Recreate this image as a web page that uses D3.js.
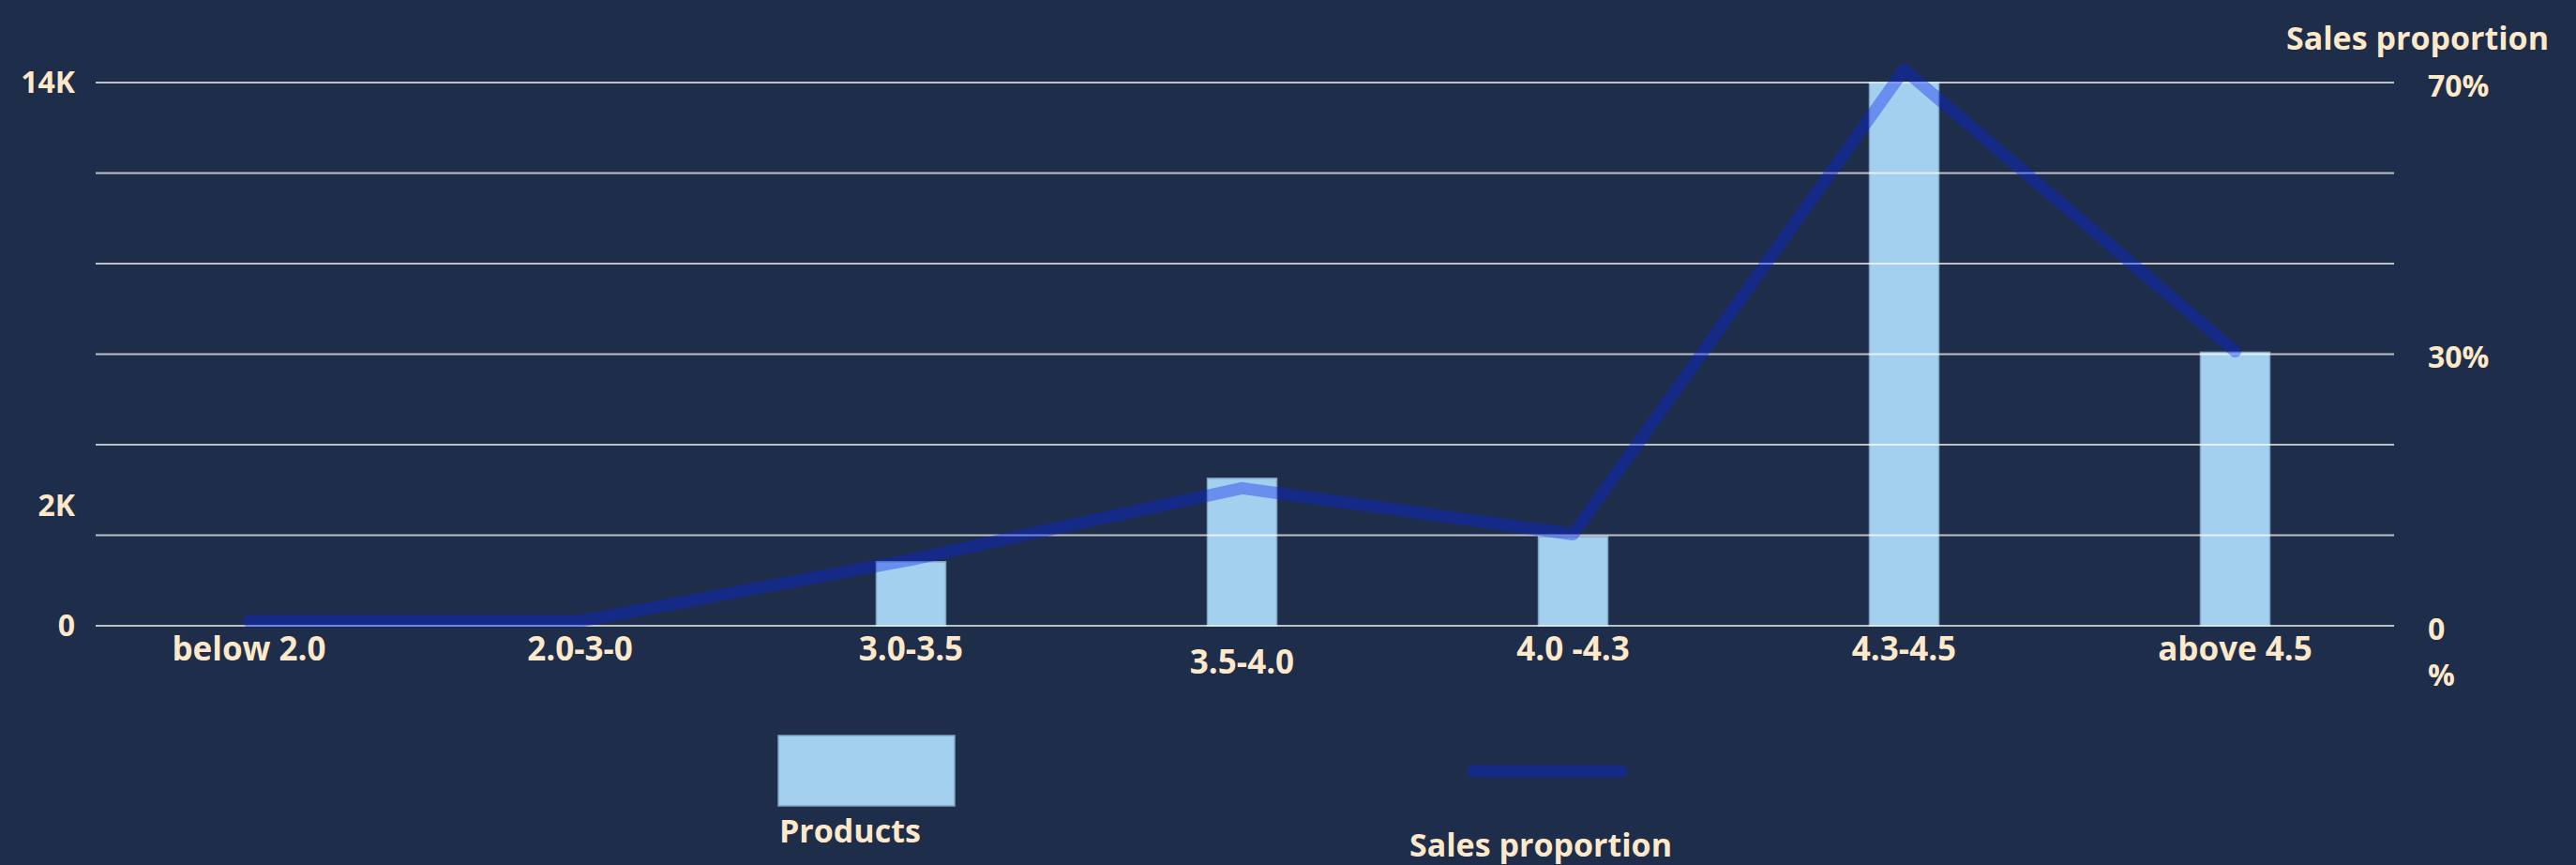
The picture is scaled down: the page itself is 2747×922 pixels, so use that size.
<!DOCTYPE html>
<html>
<head>
<meta charset="utf-8">
<script src="https://cdn.jsdelivr.net/npm/d3@7"></script>
<style>
  body { margin: 0; background: #1e2d4a; }
  text { font-family: "Open Sans", sans-serif; font-weight: 700; fill: #fde9c9; }
</style>
</head>
<body>
<div id="chart"></div>
<script>
// rating buckets
var categories = ["below 2.0", "2.0-3-0", "3.0-3.5", "3.5-4.0", "4.0 -4.3", "4.3-4.5", "above 4.5"];
// number of products per bucket
var products = [0, 0, 1650, 3800, 2300, 14000, 7050];
// sales proportion per bucket (%)
var salesShare = [0.5, 0.5, 7.3, 15.2, 10.1, 71.9, 30.4];

var leftTicks = [0, 2000, 14000];
var rightTicks = [0, 30, 70];

var width = 2747, height = 922;
var plot = {left: 102, right: 2553, top: 88, bottom: 667};

var svg = d3.select("#chart").append("svg")
    .attr("width", width)
    .attr("height", height);

var x = d3.scaleBand()
    .domain(categories)
    .range([89, 2560]);

var yLeft = d3.scaleLinear()
    .domain([0, 14000])
    .range([plot.bottom, plot.top]);

// right axis is not linear in the original: 30% sits on the middle gridline
var yRight = d3.scaleLinear()
    .domain([0, 30, 70])
    .range([yLeft(0), yLeft(7000), yLeft(14000)]);

var barWidth = 74;

// bars
svg.append("g").selectAll("rect")
    .data(categories)
    .enter()
    .append("rect")
    .attr("x", function(d) { return x(d) + x.bandwidth() / 2 - barWidth / 2; })
    .attr("y", function(d, i) { return yLeft(products[i]); })
    .attr("width", barWidth)
    .attr("height", function(d, i) { return yLeft(0) - yLeft(products[i]); })
    .style("fill", "#a3d0ef")
    .style("stroke", "#7fa3c0")
    .style("stroke-width", 1.5);

// gridlines (drawn over the bars like the original)
var grid = d3.range(7).map(function(i) { return i * 14000 / 6; });
svg.append("g").selectAll("line")
    .data(grid)
    .enter()
    .append("line")
    .attr("x1", plot.left)
    .attr("x2", plot.right)
    .attr("y1", function(d) { return yLeft(d); })
    .attr("y2", function(d) { return yLeft(d); })
    .style("stroke", "#ffffff")
    .style("stroke-opacity", 0.7)
    .style("stroke-width", 2);

// sales proportion line
var line = d3.line()
    .x(function(d, i) { return x(categories[i]) + x.bandwidth() / 2; })
    .y(function(d) { return yRight(d); });

svg.append("path")
    .datum(salesShare)
    .attr("d", line)
    .style("fill", "none")
    .style("stroke", "rgb(8,36,236)")
    .style("stroke-opacity", 0.38)
    .style("stroke-width", 13)
    .style("stroke-linejoin", "round")
    .style("stroke-linecap", "round");

// left axis
var leftAxis = svg.append("g")
    .attr("transform", "translate(80,0)")
    .call(d3.axisLeft(yLeft)
        .tickValues(leftTicks)
        .tickSize(0)
        .tickPadding(0)
        .tickFormat(function(d) { return d === 0 ? "0" : (d / 1000) + "K"; }));
leftAxis.select(".domain").remove();
leftAxis.selectAll("text")
    .style("font-size", "32px")
    .attr("fill", null)
    .filter(function(d) { return d === 2000; })
    .attr("dy", "-1.1em");

// right axis
var rightAxis = svg.append("g")
    .attr("transform", "translate(2589,0)")
    .call(d3.axisRight(yRight)
        .tickValues(rightTicks)
        .tickSize(0)
        .tickPadding(0)
        .tickFormat(function(d) { return d === 0 ? "0" : d + "%"; }));
rightAxis.select(".domain").remove();
rightAxis.selectAll("text")
    .style("font-size", "32px")
    .attr("fill", null)
    .attr("dy", "0.45em");

svg.append("text")
    .attr("x", 2589)
    .attr("y", 731)
    .style("font-size", "32px")
    .text("%");

svg.append("text")
    .attr("x", 2578)
    .attr("y", 53)
    .attr("text-anchor", "middle")
    .style("font-size", "34px")
    .text("Sales proportion");

// category labels
svg.append("g").selectAll("text")
    .data(categories)
    .enter()
    .append("text")
    .attr("x", function(d) { return x(d) + x.bandwidth() / 2; })
    .attr("y", function(d) { return d === "3.5-4.0" ? 718 : 704; })
    .attr("text-anchor", "middle")
    .style("font-size", "35px")
    .text(function(d) { return d; });

// legend
var legend = svg.append("g");
legend.append("rect")
    .attr("x", 830).attr("y", 784)
    .attr("width", 188).attr("height", 75)
    .style("fill", "#a3d0ef")
    .style("stroke", "#7fa3c0")
    .style("stroke-width", 1.5);
legend.append("text")
    .attr("x", 831).attr("y", 898)
    .style("font-size", "34px")
    .text("Products");
legend.append("line")
    .attr("x1", 1571).attr("x2", 1729)
    .attr("y1", 822).attr("y2", 822)
    .style("stroke", "rgb(8,36,236)")
    .style("stroke-opacity", 0.38)
    .style("stroke-width", 13)
    .style("stroke-linecap", "round");
legend.append("text")
    .attr("x", 1643).attr("y", 913)
    .attr("text-anchor", "middle")
    .style("font-size", "34px")
    .text("Sales proportion");
</script>
</body>
</html>
